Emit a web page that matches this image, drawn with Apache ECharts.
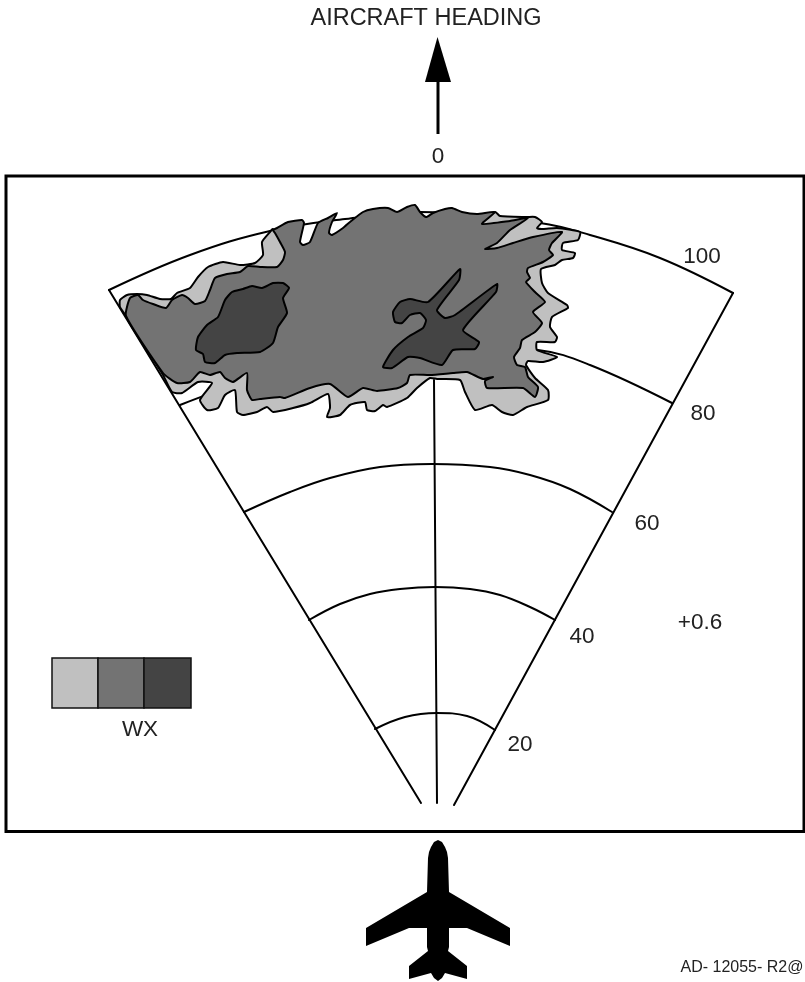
<!DOCTYPE html>
<html><head><meta charset="utf-8">
<style>html,body{margin:0;padding:0;background:#fff}#c{width:805px;height:982px}</style>
<script src="https://cdn.jsdelivr.net/npm/echarts@6/dist/echarts.min.js"></script>
</head><body><div id="c"></div>
<script>
// Outlines, in the diagram's own x/y units
const sectorLeft=[[109,290],[421,803]];
const sectorRight=[[733,293],[454,805]];
const headingLine=[[434,380],[437,803]];
const ring20=[[375,729],[405,717],[437,713],[467,716],[495,730]];
const ring40=[[309,620],[340,604],[370,594],[400,589],[435,587],[470,589],[500,595],[530,607],[555,620]];
const ring60=[[244,512],[290,492],[330,478],[380,467],[432,464],[490,467],[530,475],[570,489],[612,512]];
const ring80=[[180,405],[300,365],[433,345],[538,350],[590,365],[672,403]];
const ring100=[[109,290],[190,255],[270,231],[345,219],[420,212],[540,223],[590,235],[660,258],[733,293]];
const wxLight=[[126,316],[120,307],[120,300],[127,295],[137,294],[147,295],[160,299],[171,299],[177,293],[190,288],[198,277],[208,267],[223,262],[240,265],[255,263],[263,255],[262,242],[270,232],[273,229],[300,260],[400,300],[480,255],[478,228],[495,212],[500,216],[527,217],[535,217],[542,222],[537,228],[543,229],[557,228],[580,232],[578,240],[563,243],[562,250],[575,253],[573,258],[562,260],[555,265],[541,269],[542,283],[548,293],[567,305],[568,308],[552,317],[550,327],[557,337],[555,342],[537,342],[537,350],[557,357],[543,362],[528,361],[526,365],[535,378],[548,390],[548,400],[527,407],[513,415],[502,412],[492,405],[475,410],[465,392],[460,380],[437,379],[430,378],[417,388],[407,398],[387,407],[383,405],[375,411],[367,410],[365,402],[350,405],[340,415],[327,417],[330,408],[328,394],[310,403],[293,408],[273,412],[267,407],[257,412],[243,415],[237,412],[235,390],[225,395],[218,408],[207,410],[200,400],[212,383],[198,382],[182,393],[172,392],[163,375]];
const wxMedium=[[126,316],[130,298],[138,295],[143,300],[153,304],[166,308],[172,300],[182,295],[188,298],[195,304],[205,301],[210,290],[215,278],[227,274],[240,272],[248,266],[260,267],[277,267],[283,260],[285,252],[280,242],[275,233],[273,230],[277,228],[288,222],[302,220],[304,223],[300,242],[303,245],[310,242],[318,223],[328,218],[337,213],[332,222],[329,233],[332,235],[343,228],[350,222],[363,212],[373,209],[388,208],[397,212],[407,207],[415,205],[420,212],[426,217],[433,213],[445,209],[452,208],[462,212],[477,214],[495,212],[482,224],[510,221],[528,218],[510,230],[497,243],[485,249],[497,248],[513,243],[533,237],[562,232],[552,243],[549,250],[553,255],[543,262],[528,268],[527,272],[530,278],[526,282],[535,292],[545,302],[533,312],[542,323],[535,332],[522,340],[520,348],[514,357],[517,365],[525,367],[528,377],[538,387],[535,397],[523,388],[487,388],[485,381],[493,377],[483,379],[467,372],[453,373],[430,375],[410,375],[407,383],[398,388],[377,391],[363,388],[348,397],[330,384],[310,388],[285,398],[280,397],[260,399],[252,400],[247,390],[247,373],[233,382],[225,378],[220,372],[210,375],[200,372],[190,382],[177,383],[163,373]];
const wxDarkA=[[196,350],[198,337],[207,325],[218,317],[225,300],[232,292],[243,289],[252,286],[262,288],[273,283],[283,283],[289,288],[283,298],[287,313],[278,327],[273,343],[260,352],[237,353],[225,355],[215,363],[205,362],[203,354]];
const wxDarkB=[[393,312],[400,302],[410,299],[428,302],[460,269],[459,280],[437,310],[445,318],[455,315],[497,284],[496,292],[463,330],[479,342],[475,349],[453,350],[442,365],[420,358],[408,357],[392,368],[383,367],[393,350],[408,337],[423,328],[426,320],[420,313],[410,315],[402,323],[395,322]];
const rangeLabels=['20','40','60','80','100'];
const rangeLabelX=[520,582,647,703,702];
const rangeLabelY=[745,637,524,414,257];

const INK='#000', LIGHT='#c0c0c0', MID='#737373', DARK='#444444', TXT='#222';
const FONT='"Liberation Sans", Arial, sans-serif';
const chart=echarts.init(document.getElementById('c'),null,{renderer:'canvas'});
function lineS(d,smooth,w){return {type:'line',data:d,showSymbol:false,smooth:smooth?0.4:false,silent:true,z:2,
  lineStyle:{color:INK,width:w||2,cap:'round'}};}
function area(d,fill,z){return {type:'custom',data:d,z:z,silent:true,clip:false,
  encode:{x:0,y:1},
  renderItem(p,api){ if(p.dataIndex!==0) return null;
    return {type:'polygon',shape:{points:d.map(q=>api.coord(q)),smooth:0.18},
      style:{fill:fill,stroke:INK,lineWidth:2,lineJoin:'round'}};}};}
const t=(txt,x,y,size,align)=>({type:'text',style:{text:txt,x:x,y:y,font:size+'px '+FONT,fill:TXT,textAlign:align||'center',textVerticalAlign:'middle'},z:30});
const plane=[[438,840],[442,842],[445,847],[447,852],[448,858],[449,892],[510,928],[510,946],[467,928],[449,928],[449,947],[448,951],[467,966],[467,979],[445,973],[442,978],[438,981],[434,978],[431,973],[409,979],[409,966],[428,951],[427,947],[427,928],[409,928],[366,946],[366,928],[427,892],[428,858],[429,852],[431,847],[434,842]];
chart.setOption({
  animation:false,backgroundColor:'#fff',
  grid:{left:0,right:0,top:0,bottom:0},
  xAxis:{type:'value',min:0,max:805,show:false},
  yAxis:{type:'value',min:0,max:982,inverse:true,show:false},
  series:[
    lineS(sectorLeft),lineS(sectorRight),lineS(headingLine),
    lineS(ring20,true),lineS(ring40,true),lineS(ring60,true),lineS(ring80,true),lineS(ring100,true),
    area(wxLight,LIGHT,5),area(wxMedium,MID,6),area(wxDarkA,DARK,7),area(wxDarkB,DARK,7),
    {type:'custom',data:rangeLabels.map((l,i)=>[rangeLabelX[i],rangeLabelY[i],l]),z:10,silent:true,encode:{x:0,y:1},
     renderItem(p,api){const c=api.coord([api.value(0),api.value(1)]);
       return {type:'text',style:{text:rangeLabels[p.dataIndex],x:c[0],y:c[1],font:'22.5px '+FONT,fill:TXT,textAlign:'center',textVerticalAlign:'middle'}};}}
  ],
  graphic:[
    {type:'polygon',shape:{points:[[6,176],[804,176],[804,831.5],[6,831.5]]},style:{stroke:'#000',lineWidth:3,fill:null},z:20},
    {type:'line',shape:{x1:438,y1:134,x2:438,y2:80},style:{stroke:'#000',lineWidth:3},z:20},
    {type:'polygon',shape:{points:[[437.5,37],[425,82],[451,82]]},style:{fill:'#000'},z:20},
    {type:'polygon',shape:{points:plane},style:{fill:'#000'},z:20},
    {type:'rect',shape:{x:52,y:658,width:46,height:50},style:{fill:LIGHT,stroke:'#111',lineWidth:1.5},z:20},
    {type:'rect',shape:{x:98,y:658,width:46,height:50},style:{fill:MID,stroke:'#111',lineWidth:1.5},z:20},
    {type:'rect',shape:{x:144,y:658,width:47,height:50},style:{fill:DARK,stroke:'#111',lineWidth:1.5},z:20},
    t('AIRCRAFT HEADING',426,18.5,23.5),
    t('0',438,157,22.5),
    t('+0.6',700,623,22.5),
    t('WX',140,730,22.5),
    t('AD- 12055- R2@',742,968,16)
  ]
});
</script></body></html>
